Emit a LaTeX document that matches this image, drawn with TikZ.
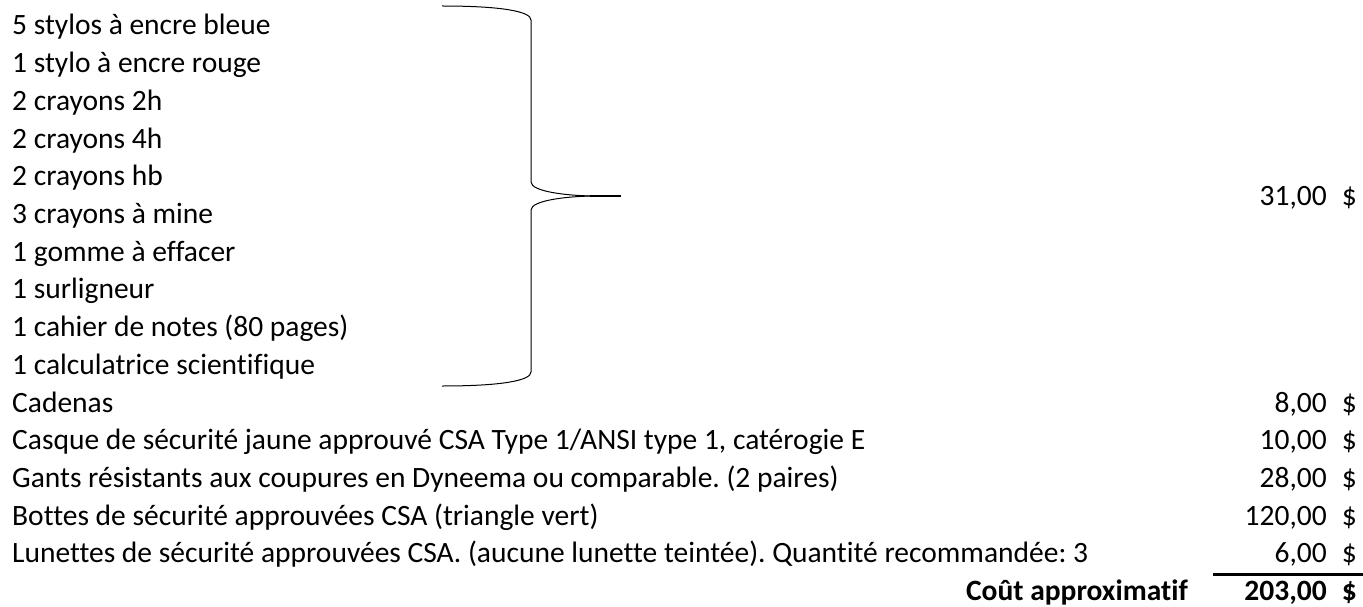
\documentclass[tikz,border=0pt]{standalone}
\usepackage{fontspec}
\setmainfont{Carlito}[Ligatures=NoCommon]
\usetikzlibrary{positioning}
\frenchspacing
\tikzstyle{sheet} = [x = 1pt, y = -1pt]
\tikzstyle{cellText} = [anchor=base west, inner sep=0pt, font=\fontsize{29.5}{34}\selectfont]
\tikzstyle{priceText} = [anchor=base east, inner sep=0pt, font=\fontsize{29.5}{34}\selectfont]
\tikzstyle{totalText} = [anchor=base east, inner sep=0pt, font=\fontsize{29.5}{34}\selectfont\bfseries]
\tikzstyle{braceLine} = [color=black, line width=1pt]
\tikzstyle{totalLine} = [color=black, line width=3pt]
\newcommand{\rowSkip}{37.7}
\newcommand{\priceRow}[2]{
  \node [priceText] (price#1) at (1327, {35 + (#1 - 1) * \rowSkip}) {#2};
  \node [priceText] (dollar#1) at (1357, {35 + (#1 - 1) * \rowSkip}) {\$};
}
\begin{document}
\begin{tikzpicture}[sheet]
  \useasboundingbox (0,0) rectangle (1363,607);
  % liste des fournitures
  \foreach \row/\itemName in {
      1/{5 stylos à encre bleue},
      2/{1 stylo à encre rouge},
      3/{2 crayons 2h},
      4/{2 crayons 4h},
      5/{2 crayons hb},
      6/{3 crayons à mine},
      7/{1 gomme à effacer},
      8/{1 surligneur},
      9/{1 cahier de notes (80 pages)},
      10/{1 calculatrice scientifique},
      11/{Cadenas},
      12/{Casque de sécurité jaune approuvé CSA Type 1/ANSI type 1, catérogie E},
      13/{Gants résistants aux coupures en Dyneema ou comparable. (2 paires)},
      14/{Bottes de sécurité approuvées CSA (triangle vert)},
      15/{Lunettes de sécurité approuvées CSA. (aucune lunette teintée). Quantité recommandée: 3}} {
    \node [cellText] (item\row) at (12, {35 + (\row - 1) * \rowSkip}) {\itemName};
  }
  % accolade
  \draw [braceLine] (442,6) .. controls (505,6) and (531,12) .. (531,20)
    -- (531,182) .. controls (531,192) and (570,196) .. (596,196);
  \draw [braceLine] (442,386) .. controls (505,386) and (531,380) .. (531,372)
    -- (531,210) .. controls (531,200) and (570,196) .. (596,196);
  \draw [color=black, line width=1.6pt] (590,196) -- (621,196);
  % prix
  \node [priceText] (priceKit) at (1327, 205) {31,00};
  \node [priceText] (dollarKit) at (1357, 205) {\$};
  \priceRow{11}{8,00}
  \priceRow{12}{10,00}
  \priceRow{13}{28,00}
  \priceRow{14}{120,00}
  \priceRow{15}{6,00}
  % total
  \draw [totalLine] (1213,574) -- (1363,574);
  \node [totalText] (totalLabel) at (1188, 600) {Coût approximatif};
  \node [totalText] (totalPrice) at (1327, 600) {203,00};
  \node [totalText] (totalDollar) at (1357, 600) {\$};
\end{tikzpicture}
\end{document}
